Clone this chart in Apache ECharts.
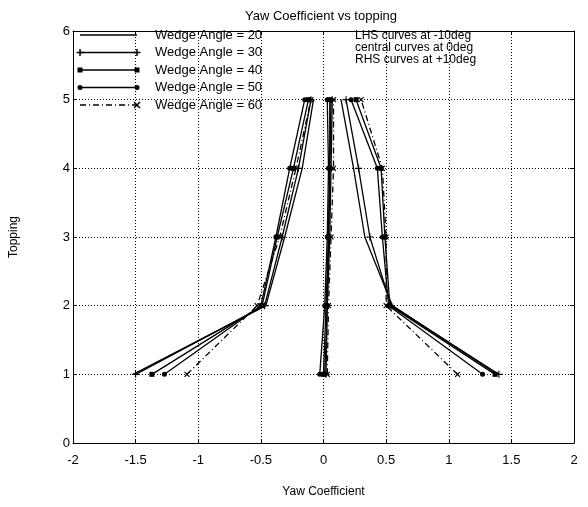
<!DOCTYPE html>
<html>
<head>
<meta charset="utf-8">
<script src="https://cdn.jsdelivr.net/npm/echarts@6/dist/echarts.min.js"></script>
<style>
  html, body { margin: 0; padding: 0; background: #fff; }
  #chart { width: 588px; height: 507px; }
</style>
</head>
<body>
<div id="chart"></div>
<script>
// Topping levels (y) and wedge angles (one curve per angle and yaw setting)
const toppings = [1, 2, 3, 4, 5];
const wedgeAngles = [20, 30, 40, 50, 60];

// Yaw coefficient at each topping level, yaw = -10 deg
const lhs20 = [-1.52, -0.46, -0.31, -0.17, -0.08];
const lhs30 = [-1.50, -0.47, -0.33, -0.20, -0.10];
const lhs40 = [-1.37, -0.49, -0.37, -0.24, -0.12];
const lhs50 = [-1.27, -0.50, -0.38, -0.27, -0.15];
const lhs60 = [-1.09, -0.53, -0.35, -0.22, -0.10];

// yaw = 0 deg
const mid20 = [0.01, 0.03, 0.04, 0.05, 0.06];
const mid30 = [0.02, 0.03, 0.05, 0.06, 0.07];
const mid40 = [0.00, 0.02, 0.04, 0.05, 0.05];
const mid50 = [-0.03, 0.01, 0.03, 0.04, 0.03];
const mid60 = [0.03, 0.04, 0.06, 0.08, 0.08];

// yaw = +10 deg
const rhs20 = [1.39, 0.55, 0.33, 0.24, 0.14];
const rhs30 = [1.40, 0.54, 0.37, 0.28, 0.18];
const rhs40 = [1.37, 0.53, 0.49, 0.46, 0.26];
const rhs50 = [1.27, 0.52, 0.47, 0.43, 0.22];
const rhs60 = [1.07, 0.50, 0.50, 0.47, 0.30];

const lhsCurves = [lhs20, lhs30, lhs40, lhs50, lhs60];
const midCurves = [mid20, mid30, mid40, mid50, mid60];
const rhsCurves = [rhs20, rhs30, rhs40, rhs50, rhs60];

const notes = ['LHS curves at -10deg', 'central curves at 0deg', 'RHS curves at +10deg'];

const FONT = 'Liberation Sans, Arial, sans-serif';
const PLUS = 'path://M4.2,0H5.8V4.2H10V5.8H5.8V10H4.2V5.8H0V4.2H4.2Z';

// Marker / dash style for each wedge angle
const styles = [
  { symbol: 'none', size: 0, rotate: 0, dash: 'solid', mark: 'none' },
  { symbol: PLUS, size: 7, rotate: 0, dash: 'solid', mark: 'plus' },
  { symbol: 'rect', size: 5, rotate: 0, dash: 'solid', mark: 'rect' },
  { symbol: 'circle', size: 5, rotate: 0, dash: 'solid', mark: 'circle' },
  { symbol: PLUS, size: 7, rotate: 45, dash: [6, 3, 1, 3], mark: 'cross' }
];

const series = [];
wedgeAngles.forEach((ang, i) => {
  [lhsCurves[i], midCurves[i], rhsCurves[i]].forEach(vals => {
    series.push({
      type: 'line',
      name: 'Wedge Angle = ' + ang,
      data: toppings.map((t, k) => [vals[k], t]),
      symbol: styles[i].symbol,
      symbolSize: styles[i].size,
      symbolRotate: styles[i].rotate,
      showSymbol: styles[i].symbol !== 'none',
      lineStyle: { color: '#000', width: 1.3, type: styles[i].dash },
      itemStyle: { color: '#000', borderWidth: 0 },
      silent: true,
      animation: false,
      z: 3
    });
  });
});

// Key drawn inside the plot, top-left
const graphics = [];
const keyX0 = 80, keyX1 = 137, keyText = 155, keyTop = 35, keyStep = 17.5;
wedgeAngles.forEach((ang, i) => {
  const y = keyTop + i * keyStep;
  const st = styles[i];
  graphics.push({
    type: 'line', shape: { x1: keyX0, y1: y, x2: keyX1, y2: y },
    style: { stroke: '#000', lineWidth: 1.3, lineDash: st.dash === 'solid' ? null : st.dash }, z: 10
  });
  [keyX0, keyX1].forEach(cx => {
    if (st.mark === 'rect') {
      graphics.push({ type: 'rect', shape: { x: cx - 2.5, y: y - 2.5, width: 5, height: 5 }, style: { fill: '#000' }, z: 10 });
    } else if (st.mark === 'circle') {
      graphics.push({ type: 'circle', shape: { cx: cx, cy: y, r: 2.5 }, style: { fill: '#000' }, z: 10 });
    } else if (st.mark === 'plus') {
      graphics.push({ type: 'line', shape: { x1: cx - 3.5, y1: y, x2: cx + 3.5, y2: y }, style: { stroke: '#000', lineWidth: 1.5 }, z: 10 });
      graphics.push({ type: 'line', shape: { x1: cx, y1: y - 3.5, x2: cx, y2: y + 3.5 }, style: { stroke: '#000', lineWidth: 1.5 }, z: 10 });
    } else if (st.mark === 'cross' && cx === keyX1) {
      graphics.push({ type: 'line', shape: { x1: cx - 3, y1: y - 3, x2: cx + 3, y2: y + 3 }, style: { stroke: '#000', lineWidth: 1.5 }, z: 10 });
      graphics.push({ type: 'line', shape: { x1: cx - 3, y1: y + 3, x2: cx + 3, y2: y - 3 }, style: { stroke: '#000', lineWidth: 1.5 }, z: 10 });
    }
  });
  graphics.push({
    type: 'text', x: keyText, y: y,
    style: { text: 'Wedge Angle = ' + ang, fill: '#000', font: '13px ' + FONT, verticalAlign: 'middle' }, z: 10
  });
});
notes.forEach((t, i) => {
  graphics.push({
    type: 'text', x: 355, y: 36 + i * 12,
    style: { text: t, fill: '#000', font: '12px ' + FONT, verticalAlign: 'middle' }, z: 10
  });
});

const tickStyle = { show: true, inside: true, length: 4, lineStyle: { color: '#000', width: 1 } };
const gridDots = { show: true, lineStyle: { color: '#000', width: 1, type: [1, 2] } };
const labelStyle = { color: '#000', fontSize: 13, fontFamily: FONT };

const option = {
  animation: false,
  backgroundColor: '#fff',
  title: {
    text: 'Yaw Coefficient vs topping',
    left: 316, top: 5, textAlign: 'center',
    textStyle: { color: '#000', fontSize: 13, fontWeight: 'normal', fontFamily: FONT }
  },
  grid: { left: 70, right: 14, top: 31, bottom: 64, containLabel: false },
  xAxis: [
    {
      type: 'value', min: -2, max: 2, interval: 0.5,
      axisLine: { show: true, onZero: false, lineStyle: { color: '#000', width: 1 } },
      axisTick: tickStyle,
      axisLabel: Object.assign({ margin: 11 }, labelStyle),
      splitLine: gridDots,
      name: 'Yaw Coefficient', nameLocation: 'middle', nameGap: 43,
      nameTextStyle: { color: '#000', fontSize: 12, fontFamily: FONT }
    },
    {
      type: 'value', position: 'top', min: -2, max: 2, interval: 0.5,
      axisLine: { show: true, onZero: false, lineStyle: { color: '#000', width: 1 } },
      axisTick: tickStyle, axisLabel: { show: false }, splitLine: { show: false }
    }
  ],
  yAxis: [
    {
      type: 'value', min: 0, max: 6, interval: 1,
      axisLine: { show: true, onZero: false, lineStyle: { color: '#000', width: 1 } },
      axisTick: tickStyle,
      axisLabel: Object.assign({ margin: 3 }, labelStyle),
      splitLine: gridDots,
      name: 'Topping', nameLocation: 'middle', nameGap: 53, nameRotate: 90,
      nameTextStyle: { color: '#000', fontSize: 12, fontFamily: FONT }
    },
    {
      type: 'value', position: 'right', min: 0, max: 6, interval: 1,
      axisLine: { show: true, onZero: false, lineStyle: { color: '#000', width: 1 } },
      axisTick: tickStyle, axisLabel: { show: false }, splitLine: { show: false }
    }
  ],
  graphic: graphics,
  series: series
};

echarts.init(document.getElementById('chart'), null, { renderer: 'canvas' }).setOption(option);
</script>
</body>
</html>
